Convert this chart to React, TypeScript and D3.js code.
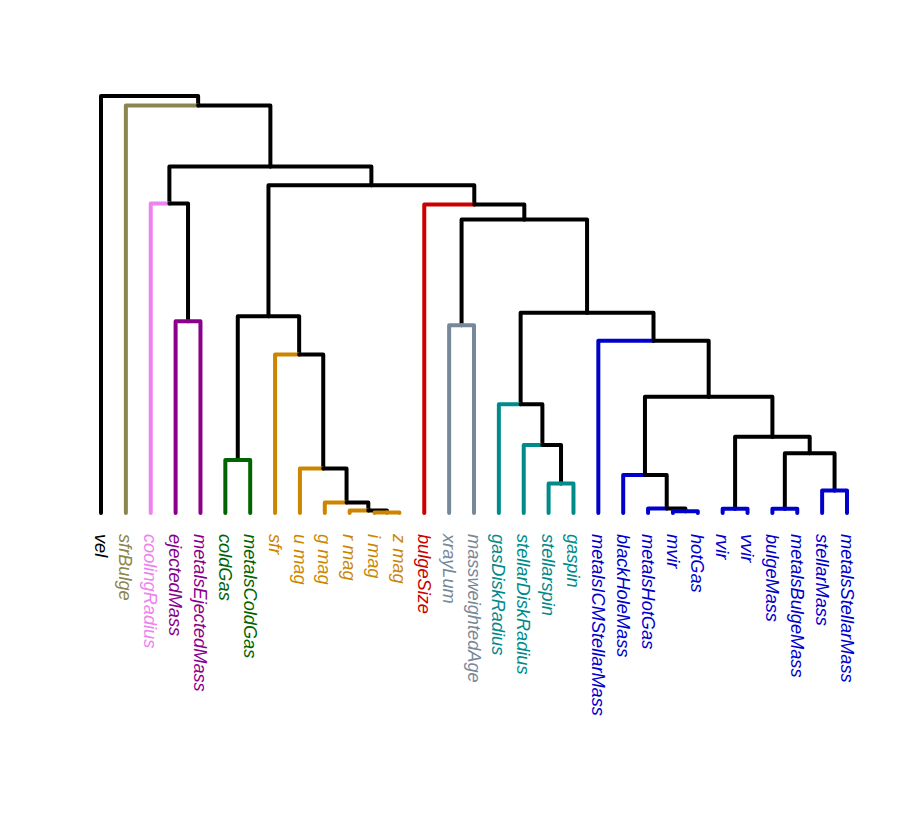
import { useEffect, useRef } from "react";
import * as d3 from "d3";

// leaf labels in plotted order
const labels = [
  "vel", "sfrBulge", "coolingRadius", "ejectedMass", "metalsEjectedMass",
  "coldGas", "metalsColdGas", "sfr", "u mag", "g mag", "r mag", "i mag", "z mag",
  "bulgeSize", "xrayLum", "massweightedAge", "gasDiskRadius", "stellarDiskRadius",
  "stellarspin", "gaspin", "metalsICMStellarMass", "blackHoleMass", "metalsHotGas",
  "mvir", "hotGas", "rvir", "vvir", "bulgeMass", "metalsBulgeMass", "stellarMass",
  "metalsStellarMass",
];

// cluster id of every leaf (same order as labels)
const clusters = [
  1, 2, 3, 4, 4, 5, 5, 6, 7, 8, 9, 10, 10, 11, 12, 12, 13, 14, 15, 15,
  16, 17, 18, 19, 19, 20, 20, 21, 21, 22, 22,
];

// colour of every cluster id (index = id)
const clusterColors = [
  "#000000", "#000000", "#8B864E", "#EE82EE", "#8B008B", "#006400",
  "#CD8500", "#CD8500", "#CD8500", "#CD8500", "#CD8500",
  "#CD0000", "#778899", "#008B8B", "#008B8B", "#008B8B",
  "#0000CD", "#0000CD", "#0000CD", "#0000CD", "#0000CD", "#0000CD", "#0000CD",
];

// hclust style merge table: negative = leaf (1-based), positive = earlier merge row
const merges: [number, number][] = [
  [-12, -13], [-24, -25], [-11, 1], [-26, -27], [-28, -29], [-23, 2], [-10, 3],
  [-30, -31], [-19, -20], [-22, 6], [-9, 7], [-6, -7], [5, 8], [-18, 9], [4, 13],
  [-17, 14], [10, 15], [-8, 11], [-21, 17], [-15, -16], [-4, -5], [12, 18],
  [16, 19], [20, 23], [-14, 24], [-3, 21], [22, 25], [26, 27], [-2, 28], [-1, 29],
];

// merge heights
const heights = [
  0.001, 0.004, 0.006, 0.010, 0.010, 0.011, 0.025, 0.054, 0.071, 0.091, 0.107,
  0.127, 0.143, 0.163, 0.183, 0.261, 0.279, 0.380, 0.413, 0.450, 0.460, 0.472,
  0.480, 0.704, 0.740, 0.742, 0.786, 0.831, 0.977, 1.000,
];

type Node = { x: number; h: number; leaves: number[]; children?: Node[] };

const App = () => {
  const svgRef = useRef<SVGSVGElement>(null);

  useEffect(() => {
    const svg = d3.select(svgRef.current);
    svg.selectAll("*").remove();

    const width = 913;
    const height = 827;

    const xScale = d3.scalePoint<string>().domain(labels).range([101, 847]);
    const yScale = d3.scaleLinear().domain([0, 1]).range([513, 96]);

    // build the tree from the merge table
    const leafNode = (i: number): Node => ({ x: xScale(labels[i]) as number, h: 0, leaves: [i] });
    const built: Node[] = [];
    merges.forEach(([a, b], i) => {
      const left = a < 0 ? leafNode(-a - 1) : built[a - 1];
      const right = b < 0 ? leafNode(-b - 1) : built[b - 1];
      built.push({
        x: (left.x + right.x) / 2,
        h: heights[i],
        leaves: [...left.leaves, ...right.leaves],
        children: [left, right],
      });
    });
    const root = built[built.length - 1];

    const sameCluster = (n: Node) => new Set(n.leaves.map((l) => clusters[l])).size === 1;

    // leaf edges take the leaf colour; inner edges only inside one cluster
    const edgeColor = (c: Node, parent: Node) => {
      if (!c.children || sameCluster(parent)) return clusterColors[clusters[c.leaves[0]]];
      return "#000000";
    };

    svg.append("rect").attr("width", width).attr("height", height).attr("fill", "#ffffff");

    const g = svg.append("g");
    const segs: { d: string; color: string }[] = [];
    const walk = (n: Node) => {
      if (!n.children) return;
      n.children.forEach((c) => {
        segs.push({
          d: `M${c.x},${yScale(c.h)}V${yScale(n.h)}H${n.x}`,
          color: edgeColor(c, n),
        });
        walk(c);
      });
    };
    walk(root);

    g.selectAll("path")
      .data(segs)
      .enter()
      .append("path")
      .attr("d", (d) => d.d)
      .attr("fill", "none")
      .attr("stroke", (d) => d.color)
      .attr("stroke-width", 4)
      .attr("stroke-linecap", "round")
      .attr("stroke-linejoin", "round");

    // leaf labels, rotated to read downward
    g.selectAll(".leaf-label")
      .data(labels)
      .enter()
      .append("text")
      .attr("class", "leaf-label")
      .attr("transform", (d) => `translate(${xScale(d)},534) rotate(90)`)
      .attr("dy", "0.35em")
      .attr("fill", (_, i) => clusterColors[clusters[i]])
      .attr("font-family", "'Liberation Sans', Arial, sans-serif")
      .attr("font-style", "italic")
      .attr("font-size", "18.2px")
      .text((d) => d);
  }, []);

  return (
    <svg
      ref={svgRef}
      width={913}
      height={827}
      style={{ position: "absolute", left: 0, top: 0 }}
    />
  );
};

export default App;
